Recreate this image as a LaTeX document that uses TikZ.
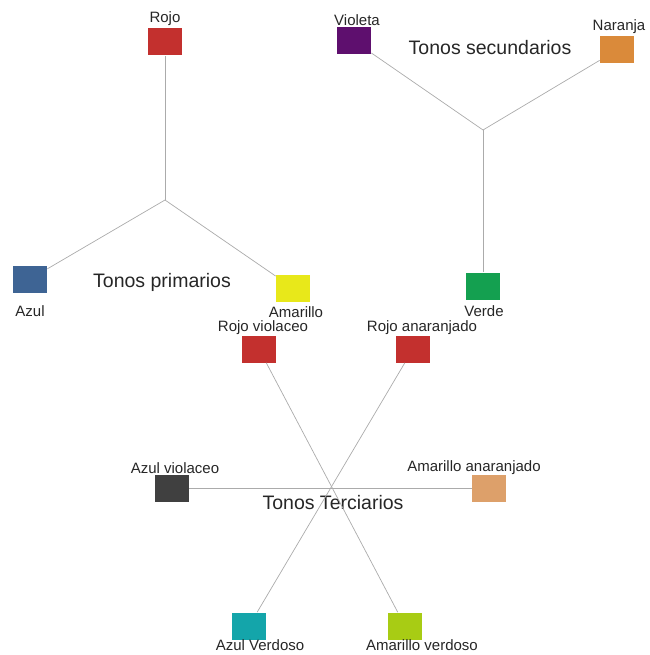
\documentclass[tikz,border=0pt]{standalone}
\usepackage{fontspec}
\setmainfont{Liberation Sans}
\usepackage{tikz}

\definecolor{linegray}{HTML}{ABABAB}
\definecolor{cRojo}{HTML}{C3302E}
\definecolor{cAzul}{HTML}{3E6494}
\definecolor{cAmarillo}{HTML}{E8E81A}
\definecolor{cVioleta}{HTML}{5E0F6E}
\definecolor{cNaranja}{HTML}{DA8A3A}
\definecolor{cVerde}{HTML}{14A050}
\definecolor{cAzulV}{HTML}{404040}
\definecolor{cAmarilloA}{HTML}{DDA06A}
\definecolor{cAzulVe}{HTML}{14A5AA}
\definecolor{cAmarilloVe}{HTML}{A8CC14}

\begin{document}
\begin{tikzpicture}[
            x = 1pt, y = -1pt, % pixel grid, y going down
            line width = 0.7pt, % thin connectors
            every node/.style = {inner sep = 0pt}
        ]

        \tikzstyle{swatch}=[
            minimum width = 34pt,
            minimum height = 27pt
        ]
        \tikzstyle{tag}=[font = \fontsize{15}{17}\selectfont, text = black!85]
        \tikzstyle{group}=[font = \fontsize{19.5}{22}\selectfont, text = black!85]
        \tikzstyle{link}=[draw = linegray]

        \useasboundingbox (0,0) rectangle (649,655);

        % primarios
        \node (rojo) [swatch, fill = cRojo] at (165,42) {};
        \node (azul) [swatch, fill = cAzul] at (30,279) {};
        \node (amarillo) [swatch, fill = cAmarillo] at (293,288) {};
        \coordinate (prim) at (165,200);

        \node (rojoT) [tag] at (165,19) {Rojo};
        \node (azulT) [tag] at (30,311) {Azul};
        \node (amarilloT) [tag] at (296,312) {Amarillo};
        \node (primT) [group] at (162,282) {Tonos primarios};

        \path[link] (prim) edge (rojo) edge (azul) edge (amarillo);

        % secundarios
        \node (violeta) [swatch, fill = cVioleta] at (354,41) {};
        \node (naranja) [swatch, fill = cNaranja] at (617,50) {};
        \node (verde) [swatch, fill = cVerde] at (483,286) {};
        \coordinate (sec) at (483,130);

        \node (violetaT) [tag] at (357,20) {Violeta};
        \node (naranjaT) [tag] at (619,27) {Naranja};
        \node (verdeT) [tag] at (484,311) {Verde};
        \node (secT) [group] at (490,48) {Tonos secundarios};

        \path[link] (sec) edge (violeta) edge (naranja) edge (verde);

        % terciarios
        \node (rojoV) [swatch, fill = cRojo] at (259,349) {};
        \node (rojoA) [swatch, fill = cRojo] at (413,349) {};
        \node (azulV) [swatch, fill = cAzulV] at (172,488) {};
        \node (amarilloA) [swatch, fill = cAmarilloA] at (489,488) {};
        \node (azulVe) [swatch, fill = cAzulVe] at (249,626) {};
        \node (amarilloVe) [swatch, fill = cAmarilloVe] at (405,626) {};

        \node (rojoVT) [tag] at (263,328) {Rojo violaceo};
        \node (rojoAT) [tag] at (422,328) {Rojo anaranjado};
        \node (azulVT) [tag] at (175,468) {Azul violaceo};
        \node (amarilloAT) [tag] at (474,468) {Amarillo anaranjado};
        \node (azulVeT) [tag] at (260,645) {Azul Verdoso};
        \node (amarilloVeT) [tag] at (422,645) {Amarillo verdoso};
        \node (terT) [group] at (333,503) {Tonos Terciarios};

        \path[link] (rojoV) edge (amarilloVe);
        \path[link] (rojoA) edge (azulVe);
        \path[link] (azulV) edge (amarilloA);

    \end{tikzpicture}
\end{document}
